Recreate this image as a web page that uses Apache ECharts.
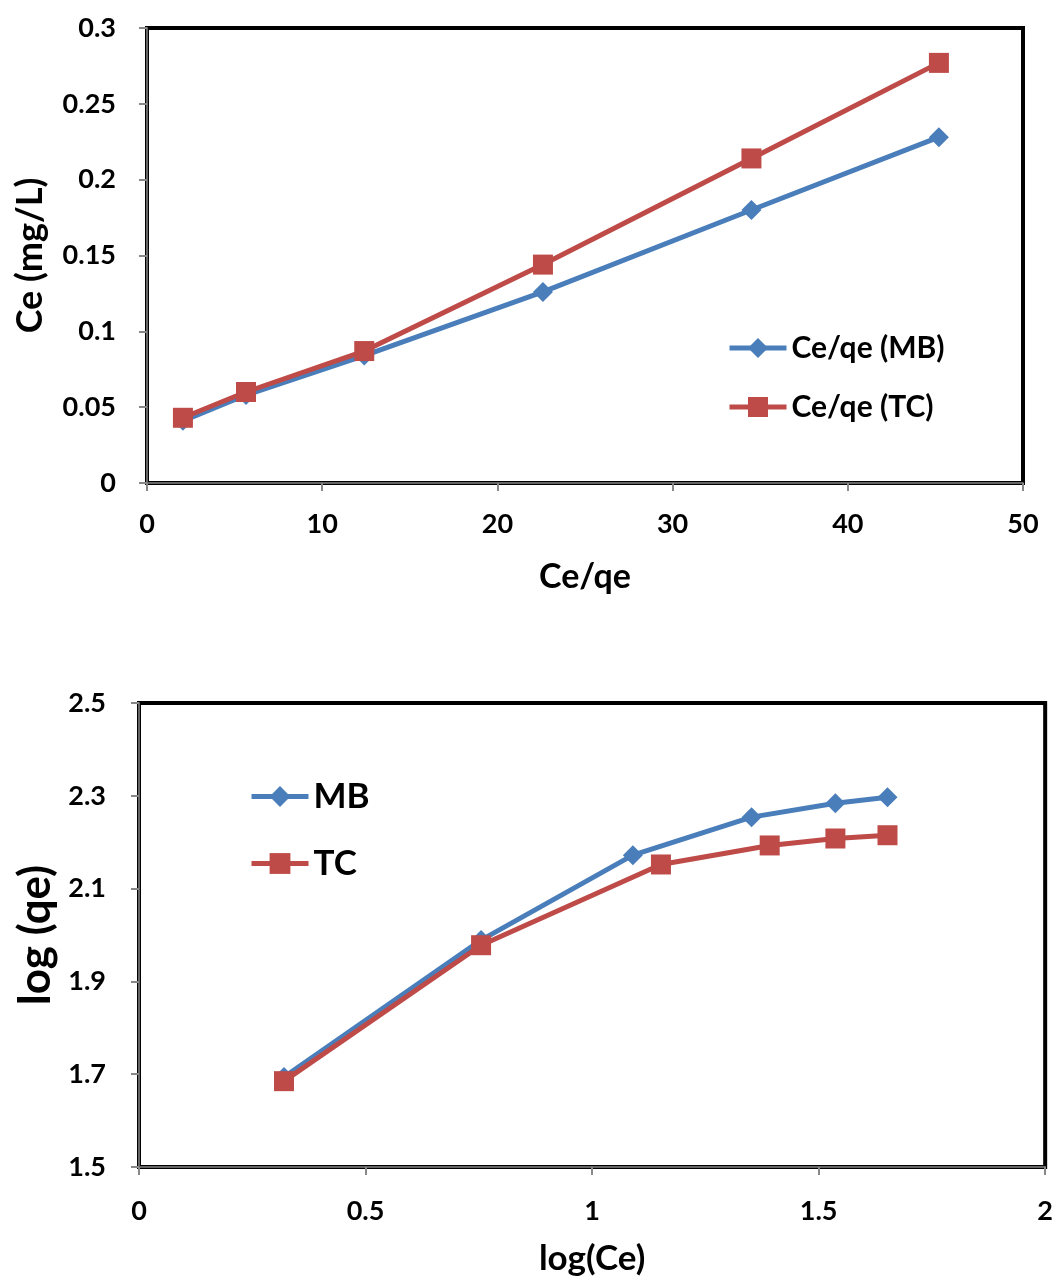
<!DOCTYPE html>
<html><head><meta charset="utf-8">
<script src="https://cdn.jsdelivr.net/npm/echarts@6/dist/echarts.min.js"></script>
<style>html,body{margin:0;padding:0;background:#fff}#c{width:1056px;height:1278px}</style>
</head><body><div id="c"></div>
<script>
// Top chart data
const topX = [2.05, 5.65, 12.4, 22.6, 34.5, 45.2];
const topMB = [0.041, 0.058, 0.084, 0.126, 0.180, 0.228];
const topTC = [0.043, 0.060, 0.087, 0.144, 0.214, 0.277];
const topXTicks = [0, 10, 20, 30, 40, 50];
const topYTicks = [0, 0.05, 0.1, 0.15, 0.2, 0.25, 0.3];
// Bottom chart data
const botXMB = [0.32, 0.755, 1.09, 1.352, 1.537, 1.652];
const botMB = [1.694, 1.989, 2.172, 2.254, 2.284, 2.297];
const botXTC = [0.32, 0.755, 1.152, 1.392, 1.537, 1.652];
const botTC = [1.685, 1.978, 2.152, 2.193, 2.208, 2.215];

const FONT = 'Lato';
const BLUE = '#4A7EBB', RED = '#BE4B48';
const pairs = (xs, ys) => xs.map((x, i) => [x, ys[i]]);
const lbl = (fs, margin, fmt) => ({color: '#000', fontFamily: FONT, fontWeight: 'bold', fontSize: fs, margin: margin, formatter: fmt});
const nm = (fs) => ({color: '#000', fontFamily: FONT, fontWeight: 'bold', fontSize: fs});

const axisCommon = () => ({
  axisLine: {show: true, onZero: false, lineStyle: {color: '#666', width: 2}},
  axisTick: {show: true, inside: false, length: 8, lineStyle: {color: '#888', width: 2}},
  splitLine: {show: false}
});

const chart = echarts.init(document.getElementById('c'));
chart.setOption({
  animation: false,
  backgroundColor: '#fff',
  grid: [
    {left: 147, top: 28, width: 876, height: 455, show: true, borderColor: '#000', borderWidth: 4, backgroundColor: 'transparent'},
    {left: 139, top: 703, width: 908, height: 464, show: true, borderColor: '#000', borderWidth: 4, backgroundColor: 'transparent'}
  ],
  xAxis: [
    Object.assign(axisCommon(), {type: 'value', gridIndex: 0, min: 0, max: 50, interval: 10,
      name: 'Ce/qe', nameLocation: 'middle', nameGap: 77, nameTextStyle: nm(34),
      axisLabel: lbl(27, 28)}),
    Object.assign(axisCommon(), {type: 'value', gridIndex: 1, min: 0, max: 2, interval: 0.5,
      name: 'log(Ce)', nameLocation: 'middle', nameGap: 74, nameTextStyle: nm(35),
      axisLabel: lbl(27, 31)})
  ],
  yAxis: [
    Object.assign(axisCommon(), {type: 'value', gridIndex: 0, min: 0, max: 0.3, interval: 0.05,
      name: 'Ce (mg/L)', nameLocation: 'middle', nameGap: 99, nameRotate: 90, nameTextStyle: nm(36),
      axisLabel: lbl(27, 31, v => String(+v.toFixed(2)))}),
    Object.assign(axisCommon(), {type: 'value', gridIndex: 1, min: 1.5, max: 2.5, interval: 0.2,
      name: 'log (qe)', nameLocation: 'middle', nameGap: 81, nameRotate: 90, nameTextStyle: nm(44),
      axisLabel: lbl(27, 33, v => v.toFixed(1))})
  ],
  legend: [
    {data: ['Ce/qe (MB)', 'Ce/qe (TC)'], orient: 'vertical', left: 722, top: 328, itemGap: 29,
      itemWidth: 57, itemHeight: 25, itemTextGap: 4, lineStyle: {width: 5},
      textStyle: {color: '#000', fontFamily: FONT, fontWeight: 'bold', fontSize: 30}},
    {data: ['MB', 'TC'], orient: 'vertical', left: 244, top: 774, itemGap: 32,
      itemWidth: 57, itemHeight: 26, lineStyle: {width: 5},
      textStyle: {color: '#000', fontFamily: FONT, fontWeight: 'bold', fontSize: 35}}
  ],
  series: [
    {name: 'Ce/qe (MB)', type: 'line', xAxisIndex: 0, yAxisIndex: 0, data: pairs(topX, topMB),
      symbol: 'diamond', symbolSize: [20, 20], lineStyle: {color: BLUE, width: 5}, itemStyle: {color: BLUE}},
    {name: 'Ce/qe (TC)', type: 'line', xAxisIndex: 0, yAxisIndex: 0, data: pairs(topX, topTC),
      symbol: 'rect', symbolSize: 20, lineStyle: {color: RED, width: 5}, itemStyle: {color: RED}},
    {name: 'MB', type: 'line', xAxisIndex: 1, yAxisIndex: 1, data: pairs(botXMB, botMB),
      symbol: 'diamond', symbolSize: [20, 20], lineStyle: {color: BLUE, width: 5}, itemStyle: {color: BLUE}},
    {name: 'TC', type: 'line', xAxisIndex: 1, yAxisIndex: 1, data: pairs(botXTC, botTC),
      symbol: 'rect', symbolSize: 20, lineStyle: {color: RED, width: 5}, itemStyle: {color: RED}}
  ]
});
</script></body></html>
